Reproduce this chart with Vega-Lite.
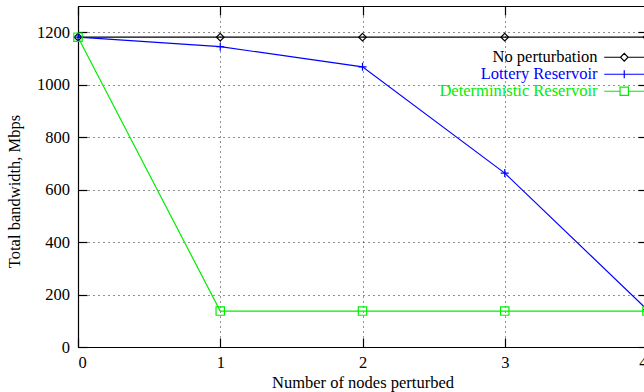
{
  "$schema": "https://vega.github.io/schema/vega-lite/v6.json",
  "width": 569,
  "height": 341,
  "autosize": {"type": "none"},
  "padding": {"left": 78, "top": 6, "right": 0, "bottom": 45},
  "background": "white",
  "config": {
    "view": {"stroke": "#000", "strokeWidth": 1},
    "font": "Liberation Serif",
    "axis": {
      "labelFont": "Liberation Serif",
      "labelFontSize": 16.5,
      "labelColor": "#000",
      "titleFont": "Liberation Serif",
      "titleFontSize": 16.5,
      "titleFontWeight": "normal",
      "titleColor": "#000",
      "domainColor": "#000",
      "domainWidth": 1.2,
      "tickColor": "#000",
      "tickWidth": 1.2,
      "gridColor": "#222",
      "gridDash": [1, 4],
      "gridWidth": 1,
      "gridOpacity": 1
    }
  },
  "data": {
    "values": [
      {"nodes": 0, "bw": 1181, "series": "No perturbation"},
      {"nodes": 1, "bw": 1181, "series": "No perturbation"},
      {"nodes": 2, "bw": 1181, "series": "No perturbation"},
      {"nodes": 3, "bw": 1181, "series": "No perturbation"},
      {"nodes": 4, "bw": 1181, "series": "No perturbation"},
      {"nodes": 0, "bw": 1181, "series": "Lottery Reservoir"},
      {"nodes": 1, "bw": 1145, "series": "Lottery Reservoir"},
      {"nodes": 2, "bw": 1068, "series": "Lottery Reservoir"},
      {"nodes": 3, "bw": 663, "series": "Lottery Reservoir"},
      {"nodes": 4, "bw": 143, "series": "Lottery Reservoir"},
      {"nodes": 0, "bw": 1181, "series": "Deterministic Reservoir"},
      {"nodes": 1, "bw": 137, "series": "Deterministic Reservoir"},
      {"nodes": 2, "bw": 137, "series": "Deterministic Reservoir"},
      {"nodes": 3, "bw": 137, "series": "Deterministic Reservoir"},
      {"nodes": 4, "bw": 137, "series": "Deterministic Reservoir"}
    ]
  },
  "layer": [
    {
      "mark": {"type": "line", "strokeWidth": 1.2},
      "encoding": {
        "x": {
          "field": "nodes", "type": "quantitative",
          "scale": {"domain": [0, 4], "nice": false, "zero": false},
          "axis": {
            "orient": "bottom", "values": [0, 1, 2, 3, 4], "format": "d",
            "grid": true, "tickSize": -9, "labelPadding": 16.5,
            "title": "Number of nodes perturbed",
            "titleX": 284.5, "titleY": 40, "titleBaseline": "alphabetic", "titleAnchor": "middle", "titleAlign": "center"
          }
        },
        "y": {
          "field": "bw", "type": "quantitative",
          "scale": {"domain": [0, 1300], "nice": false, "zero": true},
          "axis": {
            "orient": "left", "values": [0, 200, 400, 600, 800, 1000, 1200], "format": "d",
            "grid": true, "tickSize": -9, "labelPadding": 17.5,
            "title": "Total bandwidth, Mbps",
            "titleAngle": -90, "titleX": -58.5, "titleY": 185,
            "titleBaseline": "alphabetic", "titleAlign": "center", "titleAnchor": "middle"
          }
        },
        "color": {
          "field": "series", "type": "nominal",
          "scale": {
            "domain": ["No perturbation", "Lottery Reservoir", "Deterministic Reservoir"],
            "range": ["#000000", "#0000ff", "#00ee00"]
          },
          "legend": {
            "orient": "none", "legendX": 538, "legendY": 43,
            "title": null, "padding": 0, "rowPadding": 0,
            "labelFont": "Liberation Serif", "labelFontSize": 16.5,
            "labelAlign": "right", "labelOffset": -35, "labelLimit": 400,
            "symbolSize": 64, "symbolStrokeWidth": 1.2,
            "encode": {
              "symbols": {
                "update": {
                  "shape": {"signal": "datum.value == 'No perturbation' ? 'M-5,0L-0.95,0M0.95,0L5,0M0,-0.95L0.95,0L0,0.95L-0.95,0Z' : datum.value == 'Lottery Reservoir' ? 'M-5,0L5,0M0,-1L0,1' : 'M-5,0L-1.05,0M1.05,0L5,0M-1.05,-1.05L1.05,-1.05L1.05,1.05L-1.05,1.05Z'"},
                  "fill": {"value": "transparent"}
                }
              },
              "labels": {
                "update": {"fill": {"scale": "color", "field": "value"}}
              }
            }
          }
        }
      }
    },
    {
      "transform": [{"filter": "datum.series == 'No perturbation'"}],
      "mark": {"type": "point", "filled": false, "strokeWidth": 1.2, "size": 64, "opacity": 1, "color": "#000000", "shape": "M0,-0.95L0.95,0L0,0.95L-0.95,0Z"},
      "encoding": {
        "x": {
          "field": "nodes", "type": "quantitative",
          "axis": {"orient": "top", "values": [0, 1, 2, 3, 4], "labels": false, "grid": false, "domain": false, "tickSize": -9, "title": null}
        },
        "y": {
          "field": "bw", "type": "quantitative",
          "axis": {"orient": "right", "values": [0, 200, 400, 600, 800, 1000, 1200], "labels": false, "grid": false, "domain": false, "tickSize": -9, "title": null}
        }
      }
    },
    {
      "transform": [{"filter": "datum.series == 'Lottery Reservoir'"}],
      "mark": {"type": "point", "filled": false, "strokeWidth": 1.2, "size": 64, "opacity": 1, "color": "#0000ff", "shape": "M-1,0L1,0M0,-1L0,1"},
      "encoding": {
        "x": {"field": "nodes", "type": "quantitative", "axis": null},
        "y": {"field": "bw", "type": "quantitative", "axis": null}
      }
    },
    {
      "transform": [{"filter": "datum.series == 'Deterministic Reservoir'"}],
      "mark": {"type": "point", "filled": false, "strokeWidth": 1.2, "size": 64, "opacity": 1, "color": "#00ee00", "shape": "M-1.05,-1.05L1.05,-1.05L1.05,1.05L-1.05,1.05Z"},
      "encoding": {
        "x": {"field": "nodes", "type": "quantitative", "axis": null},
        "y": {"field": "bw", "type": "quantitative", "axis": null}
      }
    }
  ]
}
